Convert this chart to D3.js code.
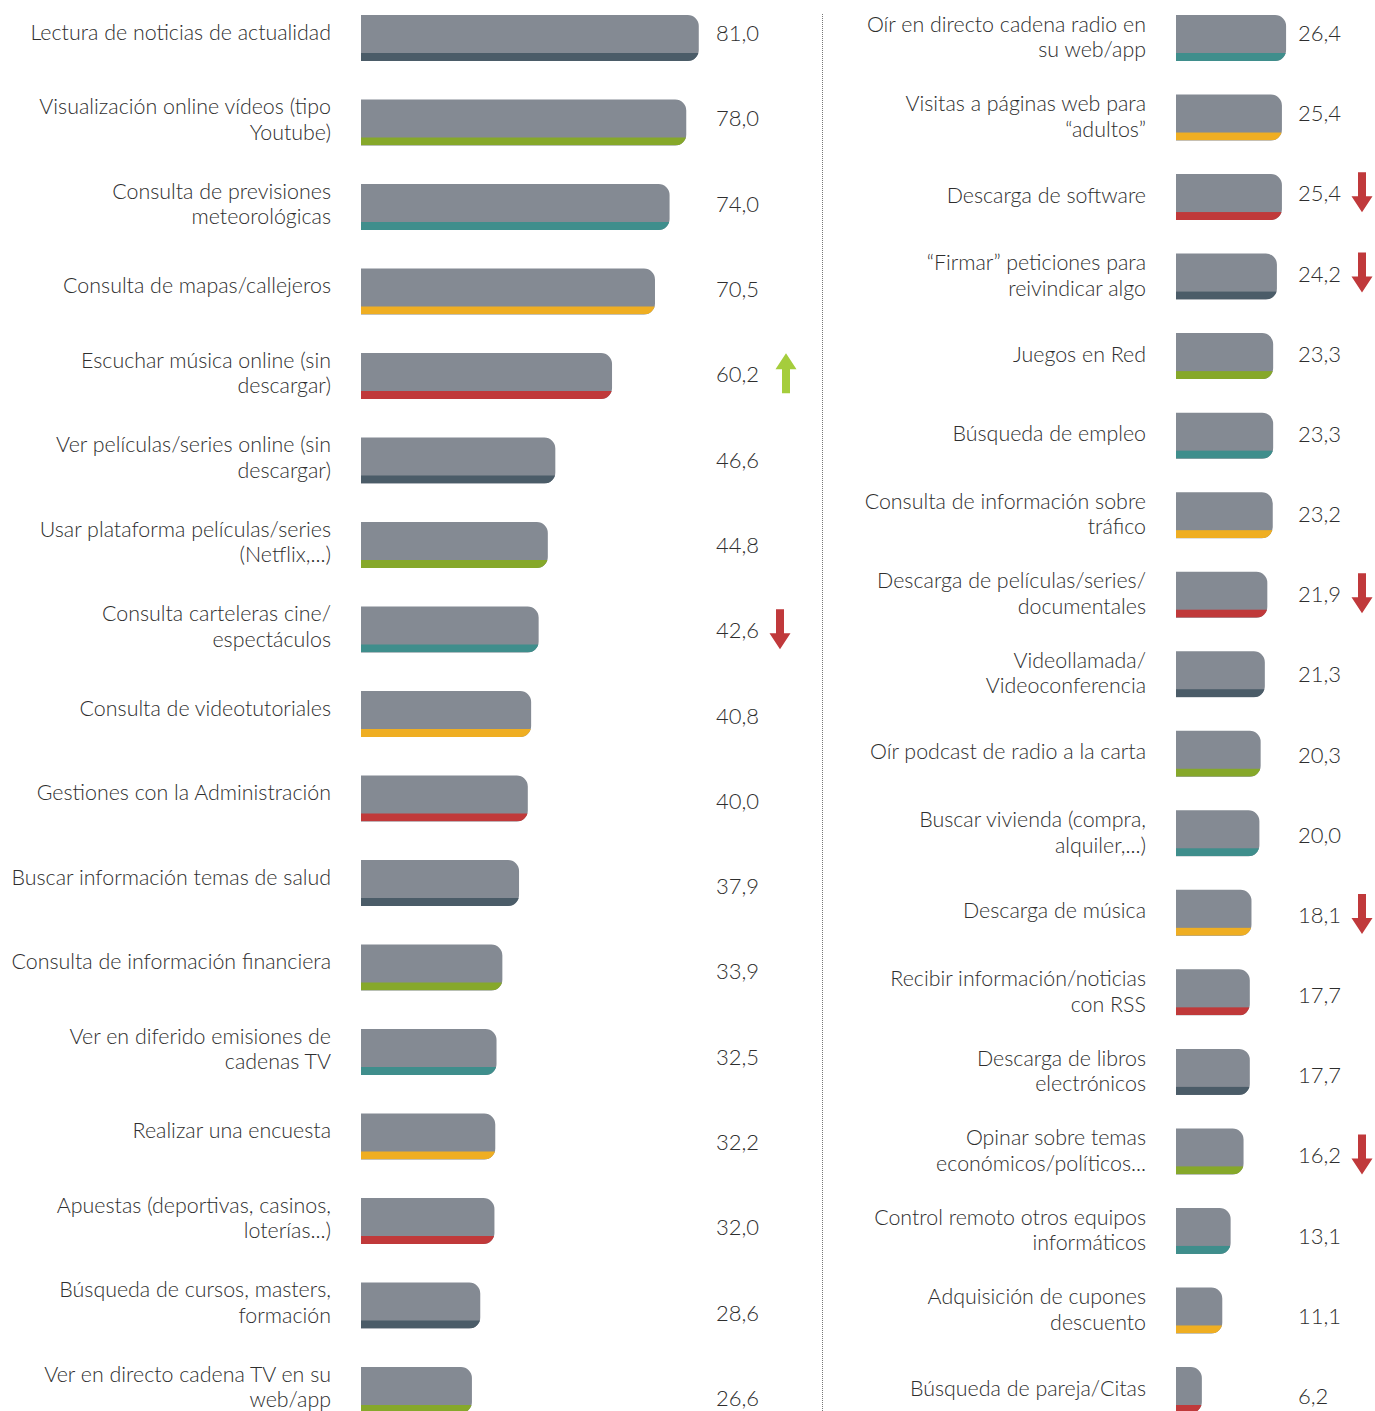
<!DOCTYPE html>
<html>
<head>
<meta charset="utf-8">
<script src="https://cdn.jsdelivr.net/npm/d3@7"></script>
<style>
  body { margin: 0; background: #fff; }
  svg text { font-family: Lato, "Open Sans", sans-serif; font-weight: 300; fill: #2e2e2e; }
</style>
</head>
<body>
<div id="chart"></div>
<script>
// actividades (columna izquierda)
const leftLabels = [
  "Lectura de noticias de actualidad",
  "Visualización online vídeos (tipo\nYoutube)",
  "Consulta de previsiones\nmeteorológicas",
  "Consulta de mapas/callejeros",
  "Escuchar música online (sin\ndescargar)",
  "Ver películas/series online (sin\ndescargar)",
  "Usar plataforma películas/series\n(Netflix,...)",
  "Consulta carteleras cine/\nespectáculos",
  "Consulta de videotutoriales",
  "Gestiones con la Administración",
  "Buscar información temas de salud",
  "Consulta de información financiera",
  "Ver en diferido emisiones de\ncadenas TV",
  "Realizar una encuesta",
  "Apuestas (deportivas, casinos,\nloterías...)",
  "Búsqueda de cursos, masters,\nformación",
  "Ver en directo cadena TV en su\nweb/app"
];
const leftValues = [81.0, 78.0, 74.0, 70.5, 60.2, 46.6, 44.8, 42.6, 40.8, 40.0, 37.9, 33.9, 32.5, 32.2, 32.0, 28.6, 26.6];
const leftTrend = ["", "", "", "", "up", "", "", "down", "", "", "", "", "", "", "", "", ""];

// columna derecha
const rightLabels = [
  "Oír en directo cadena radio en\nsu web/app",
  "Visitas a páginas web para\n“adultos”",
  "Descarga de software",
  "“Firmar” peticiones para\nreivindicar algo",
  "Juegos en Red",
  "Búsqueda de empleo",
  "Consulta de información sobre\ntráfico",
  "Descarga de películas/series/\ndocumentales",
  "Videollamada/\nVideoconferencia",
  "Oír podcast de radio a la carta",
  "Buscar vivienda (compra,\nalquiler,...)",
  "Descarga de música",
  "Recibir información/noticias\ncon RSS",
  "Descarga de libros\nelectrónicos",
  "Opinar sobre temas\neconómicos/políticos...",
  "Control remoto otros equipos\ninformáticos",
  "Adquisición de cupones\ndescuento",
  "Búsqueda de pareja/Citas"
];
const rightValues = [26.4, 25.4, 25.4, 24.2, 23.3, 23.3, 23.2, 21.9, 21.3, 20.3, 20.0, 18.1, 17.7, 17.7, 16.2, 13.1, 11.1, 6.2];
const rightTrend = ["", "", "down", "down", "", "", "", "down", "", "", "", "down", "", "", "down", "", "", ""];

const stripeColors = ["#4b5c68", "#86a82a", "#3f8e8c", "#efae22", "#c0393a"];

const width = 1375, height = 1411;
const svg = d3.select("#chart").append("svg").attr("width", width).attr("height", height);
const defs = svg.append("defs");

const fmt = v => d3.format(".1f")(v).replace(".", ",");
const color = d3.scaleOrdinal().domain(d3.range(5)).range(stripeColors);
const x = d3.scaleLinear().domain([0, 100]).range([0, 417]);

const barH = 46, stripeH = 8, r = 11;

function barPath(w, h) {
  const rr = Math.min(r, w / 2);
  return `M0,0H${w - rr}A${rr},${rr} 0 0 1 ${w},${rr}V${h - rr}A${rr},${rr} 0 0 1 ${w - rr},${h}H0Z`;
}

function arrow(g, dir, col) {
  // flecha de 40px, punta de 16px
  const p = dir === "up"
    ? "M-4,40V16H-10.5L0,0L10.5,16H4V40Z"
    : "M-4,0V24H-10.5L0,40L10.5,24H4V0Z";
  g.append("path").attr("d", p).attr("fill", col);
}

function panel(cfg) {
  const n = cfg.labels.length;
  const rows = d3.range(n);
  const yBar = d3.scaleLinear().domain([0, n - 1]).range(cfg.barRange);
  const yNum = d3.scaleLinear().domain([0, n - 1]).range(cfg.numRange);

  const g = svg.append("g");

  const bars = g.selectAll("g.bar").data(rows).join("g")
    .attr("class", "bar")
    .attr("transform", i => `translate(${cfg.x0},${yBar(i)})`);

  bars.each(function (i) {
    const b = d3.select(this);
    const w = x(cfg.values[i]);
    const id = `clip-${cfg.key}-${i}`;
    defs.append("clipPath").attr("id", id).append("path").attr("d", barPath(w, barH));
    b.append("path").attr("d", barPath(w, barH)).attr("fill", "#848a93");
    b.append("rect")
      .attr("clip-path", `url(#${id})`)
      .attr("x", 0).attr("y", barH - stripeH)
      .attr("width", w).attr("height", stripeH)
      .attr("fill", color((i + cfg.offset) % 5));
  });

  // etiquetas
  g.selectAll("text.lab").data(rows).join("text")
    .attr("class", "lab")
    .attr("text-anchor", "end")
    .attr("font-size", 21.4)
    .each(function (i) {
      const lines = cfg.labels[i].split("\n");
      const t = d3.select(this);
      const cy = yBar(i) + barH / 2 + cfg.shift + (lines.length === 1 ? cfg.singleShift : 0);
      const y0 = cy - (lines.length - 1) * 25.5 / 2 + 7.5;
      lines.forEach((l, k) => {
        t.append("tspan").attr("x", cfg.labelX).attr("y", y0 + k * 25.5).text(l);
      });
    });

  // valores
  g.selectAll("text.val").data(rows).join("text")
    .attr("class", "val")
    .attr("x", cfg.numX)
    .attr("y", i => yNum(i) + 8)
    .attr("font-size", 22)
    .text(i => fmt(cfg.values[i]));

  // flechas de tendencia
  rows.filter(i => cfg.trend[i]).forEach(i => {
    const up = cfg.trend[i] === "up";
    const ag = g.append("g")
      .attr("transform", `translate(${cfg.arrowX + (up ? 6 : 0)},${yNum(i) - 21})`);
    arrow(ag, cfg.trend[i], up ? "#a5cd3c" : "#c0393b");
  });
}

panel({
  key: "l", labels: leftLabels, values: leftValues, trend: leftTrend, offset: 0,
  x0: 361, labelX: 331, numX: 716, arrowX: 780,
  barRange: [15, 1367], numRange: [33, 1398], shift: -3, singleShift: -3
});

panel({
  key: "r", labels: rightLabels, values: rightValues, trend: rightTrend, offset: leftLabels.length,
  x0: 1176, labelX: 1146, numX: 1298, arrowX: 1362,
  barRange: [15, 1367], numRange: [33, 1396], shift: -1, singleShift: -1
});

// separador punteado
svg.append("line")
  .attr("x1", 822.5).attr("x2", 822.5).attr("y1", 14).attr("y2", height)
  .attr("stroke", "#777").attr("stroke-width", 1).attr("stroke-dasharray", "1,1");
</script>
</body>
</html>
